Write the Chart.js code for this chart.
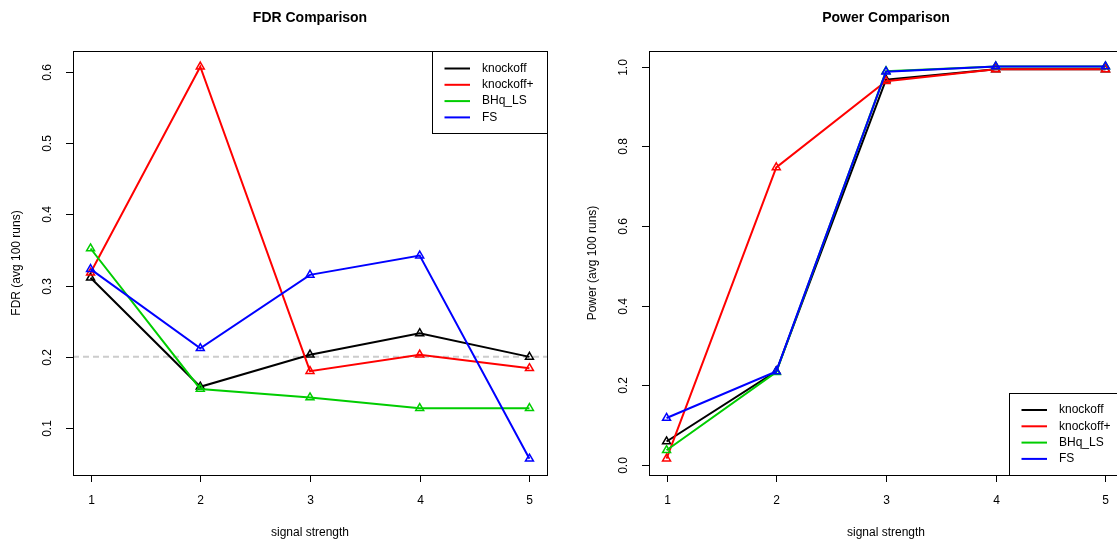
<!DOCTYPE html>
<html lang="en">
<head>
    <meta charset="UTF-8">
    <title>FDR and Power Comparison</title>
    <script src="https://cdn.jsdelivr.net/npm/chart.js"></script>
    <style>
        body {
            margin: 0;
            background: #ffffff;
            overflow: hidden;
            width: 1117px;
            height: 541px;
            position: relative;
        }
        canvas {
            position: absolute;
            top: 0;
        }
        #fdrChart { left: 0; }
        #powerChart { left: 560px; }
    </style>
</head>
<body>
    <canvas id="fdrChart" width="560" height="541"></canvas>
    <canvas id="powerChart" width="580" height="541"></canvas>

    <script>
        // data
        const strengths = [1, 2, 3, 4, 5];
        const seriesNames = ['knockoff', 'knockoff+', 'BHq_LS', 'FS'];
        const seriesColors = ['#000000', '#ff0000', '#00cd00', '#0000ff'];

        const fdrKnockoff = [0.311, 0.158, 0.203, 0.233, 0.200];
        const fdrKnockoffPlus = [0.318, 0.607, 0.180, 0.203, 0.184];
        const fdrBhq = [0.352, 0.155, 0.143, 0.128, 0.128];
        const fdrFs = [0.323, 0.212, 0.315, 0.342, 0.057];

        const powKnockoff = [0.059, 0.235, 0.967, 0.993, 0.993];
        const powKnockoffPlus = [0.016, 0.747, 0.963, 0.993, 0.993];
        const powBhq = [0.037, 0.233, 0.988, 1.0, 1.0];
        const powFs = [0.118, 0.235, 0.987, 1.0, 1.0];

        const xTicks = [1, 2, 3, 4, 5];
        const fdrTicks = ['0.1', '0.2', '0.3', '0.4', '0.5', '0.6'];
        const powTicks = ['0.0', '0.2', '0.4', '0.6', '0.8', '1.0'];
        const fdrTarget = 0.2;

        const FONT = '"Liberation Sans", Arial, Helvetica, sans-serif';

        function makeDatasets(series) {
            return series.map(function(vals, i) {
                return {
                    label: seriesNames[i],
                    data: strengths.map(function(s, j) { return { x: s, y: vals[j] }; }),
                    borderColor: seriesColors[i],
                    backgroundColor: seriesColors[i],
                    borderWidth: 2,
                    pointStyle: 'triangle',
                    pointRadius: 4.6,
                    pointBorderWidth: 1.5,
                    pointBackgroundColor: 'rgba(0,0,0,0)',
                    pointBorderColor: seriesColors[i],
                    tension: 0,
                    order: 4 - i
                };
            });
        }

        // R style frame, ticks, labels and legend
        const rStyle = {
            id: 'rStyle',
            beforeDatasetsDraw(chart, args, opts) {
                if (opts.hline === undefined) return;
                const ctx = chart.ctx;
                const a = chart.chartArea;
                const y = chart.scales.y.getPixelForValue(opts.hline);
                ctx.save();
                ctx.strokeStyle = '#cccccc';
                ctx.lineWidth = 2;
                ctx.setLineDash([6, 4]);
                ctx.beginPath();
                ctx.moveTo(a.left, y);
                ctx.lineTo(a.right, y);
                ctx.stroke();
                ctx.restore();
            },
            afterDatasetsDraw(chart, args, opts) {
                const ctx = chart.ctx;
                const a = chart.chartArea;
                const xs = chart.scales.x;
                const ys = chart.scales.y;
                ctx.save();
                ctx.strokeStyle = '#000';
                ctx.lineWidth = 1;
                ctx.strokeRect(a.left + 0.5, a.top + 0.5, a.right - a.left, a.bottom - a.top);

                // x axis
                ctx.fillStyle = '#000';
                ctx.font = '12px ' + FONT;
                ctx.textAlign = 'center';
                ctx.textBaseline = 'middle';
                xTicks.forEach(function(t) {
                    const px = Math.round(xs.getPixelForValue(t)) + 0.5;
                    ctx.beginPath();
                    ctx.moveTo(px, a.bottom);
                    ctx.lineTo(px, a.bottom + 7);
                    ctx.stroke();
                    ctx.fillText(String(t), px, a.bottom + 26);
                });

                // y axis, labels turned like R
                opts.yTicks.forEach(function(t) {
                    const py = Math.round(ys.getPixelForValue(parseFloat(t))) + 0.5;
                    ctx.beginPath();
                    ctx.moveTo(a.left, py);
                    ctx.lineTo(a.left - 7, py);
                    ctx.stroke();
                    ctx.save();
                    ctx.translate(a.left - 25, py);
                    ctx.rotate(-Math.PI / 2);
                    ctx.fillText(t, 0, 0);
                    ctx.restore();
                });

                // titles
                const cx = (a.left + a.right) / 2;
                ctx.fillText('signal strength', cx, 533);
                ctx.save();
                ctx.translate(a.left - 56, (a.top + a.bottom) / 2);
                ctx.rotate(-Math.PI / 2);
                ctx.fillText(opts.yTitle, 0, 0);
                ctx.restore();
                ctx.font = 'bold 14px ' + FONT;
                ctx.fillText(opts.title, cx, 18);

                // legend box
                const L = opts.legend;
                ctx.fillStyle = '#fff';
                ctx.fillRect(L.x, L.y, L.w, L.h);
                ctx.strokeRect(L.x + 0.5, L.y + 0.5, L.w, L.h);
                ctx.font = '12px ' + FONT;
                ctx.textAlign = 'left';
                seriesNames.forEach(function(name, i) {
                    const ry = L.y + L.first + i * 16.3;
                    ctx.strokeStyle = seriesColors[i];
                    ctx.lineWidth = 2;
                    ctx.beginPath();
                    ctx.moveTo(L.x + 12.5, ry);
                    ctx.lineTo(L.x + 38, ry);
                    ctx.stroke();
                    ctx.fillStyle = '#000';
                    ctx.fillText(name, L.x + 50, ry);
                });
                ctx.restore();
            }
        };

        function hiddenScale(min, max, isX) {
            return {
                type: 'linear',
                min: min,
                max: max,
                grid: { display: false },
                border: { display: false },
                ticks: { display: false },
                afterFit: function(scale) {
                    if (isX) scale.height = 0; else scale.width = 0;
                }
            };
        }

        new Chart(document.getElementById('fdrChart'), {
            type: 'line',
            data: { datasets: makeDatasets([fdrKnockoff, fdrKnockoffPlus, fdrBhq, fdrFs]) },
            options: {
                responsive: false,
                animation: false,
                devicePixelRatio: 1,
                layout: { padding: { left: 73, right: 13, top: 51, bottom: 66 } },
                scales: {
                    x: hiddenScale(0.84, 5.16, true),
                    y: hiddenScale(0.0343, 0.629, false)
                },
                plugins: {
                    legend: { display: false },
                    tooltip: { enabled: false },
                    rStyle: {
                        title: 'FDR Comparison',
                        yTitle: 'FDR (avg 100 runs)',
                        yTicks: fdrTicks,
                        hline: fdrTarget,
                        legend: { x: 432, y: 51, w: 115, h: 82, first: 17.5 }
                    }
                }
            },
            plugins: [rStyle]
        });

        new Chart(document.getElementById('powerChart'), {
            type: 'line',
            data: { datasets: makeDatasets([powKnockoff, powKnockoffPlus, powBhq, powFs]) },
            options: {
                responsive: false,
                animation: false,
                devicePixelRatio: 1,
                layout: { padding: { left: 89, right: 17, top: 51, bottom: 66 } },
                scales: {
                    x: hiddenScale(0.84, 5.16, true),
                    y: hiddenScale(-0.025, 1.039, false)
                },
                plugins: {
                    legend: { display: false },
                    tooltip: { enabled: false },
                    rStyle: {
                        title: 'Power Comparison',
                        yTitle: 'Power (avg 100 runs)',
                        yTicks: powTicks,
                        legend: { x: 449, y: 393, w: 125, h: 82, first: 17 }
                    }
                }
            },
            plugins: [rStyle]
        });
    </script>
</body>
</html>
